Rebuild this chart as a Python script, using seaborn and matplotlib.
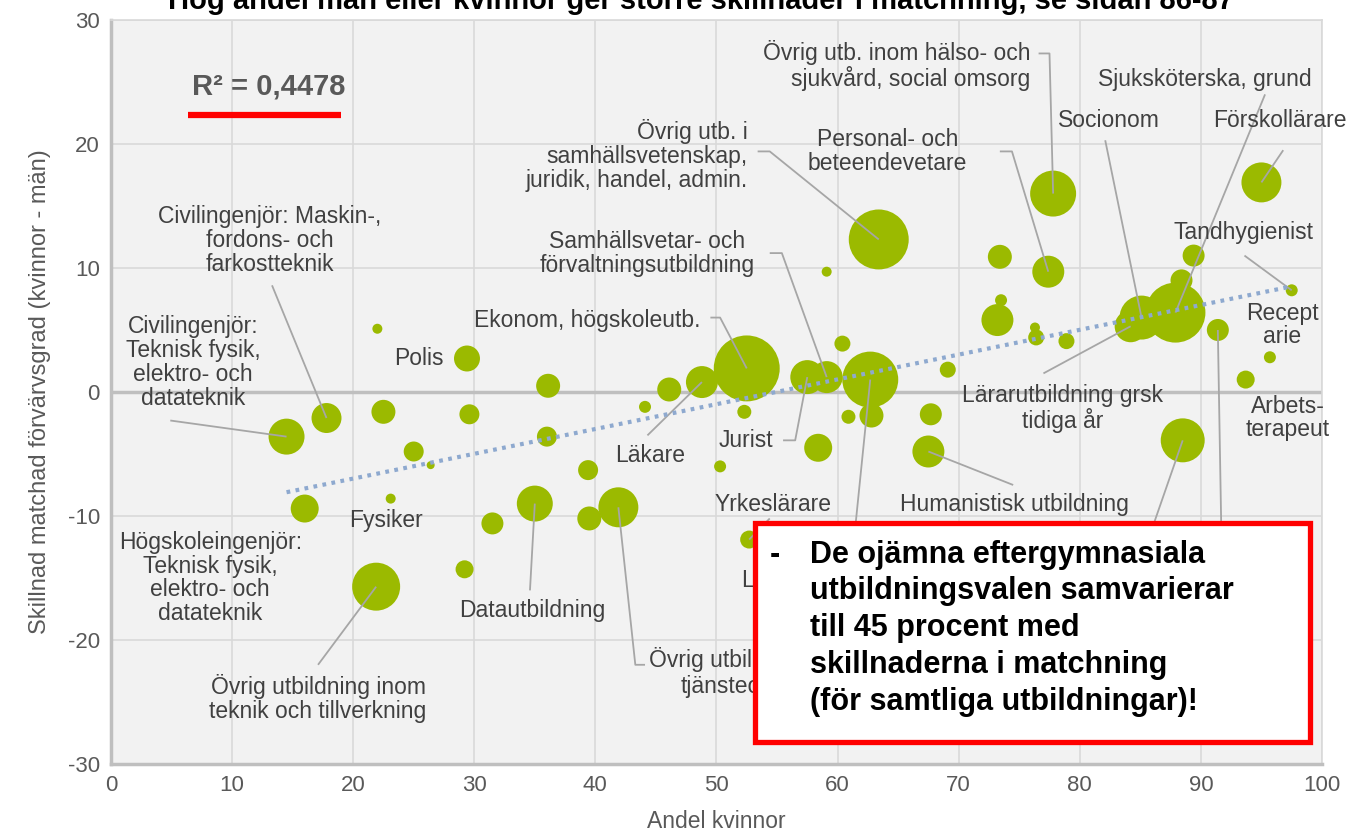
import matplotlib
matplotlib.use("Agg")
import matplotlib.pyplot as plt
import matplotlib.patches as mpatches
import seaborn as sns
import pandas as pd
import numpy as np

# Andel kvinnor (%) per utbildning
andel = [14.5, 17.8, 16.0, 22.5, 22.0, 25.0, 26.4, 23.1, 21.9, 29.4,
         29.6, 29.2, 31.5, 36.1, 36.0, 35.0, 39.4, 39.5, 41.9, 44.1,
         46.1, 48.8, 52.5, 52.3, 50.3, 52.7, 57.5, 59.1, 59.1, 60.4,
         58.4, 60.9, 62.7, 62.8, 63.4, 67.5, 67.7, 69.1, 73.4, 73.2,
         73.5, 76.4, 76.3, 78.9, 77.4, 77.8, 85.1, 87.9, 88.4, 89.4,
         91.4, 95.0, 95.7, 93.7, 88.5, 97.5, 84.2]
# Skillnad matchad förvärvsgrad (kvinnor - män), procentenheter
skillnad = [-3.6, -2.1, -9.4, -1.6, 5.1, -4.8, -5.9, -8.6, -15.7, 2.7,
            -1.8, -14.3, -10.6, 0.5, -3.6, -9.0, -6.3, -10.2, -9.3, -1.2,
            0.2, 0.8, 1.9, -1.6, -6.0, -11.9, 1.2, 1.2, 9.7, 3.9,
            -4.5, -2.0, 1.0, -1.9, 12.3, -4.8, -1.8, 1.8, 10.9, 5.8,
            7.4, 4.4, 5.2, 4.1, 9.7, 16.0, 6.0, 6.4, 9.0, 11.0,
            5.0, 16.9, 2.8, 1.0, -3.9, 8.2, 5.3]
# Relativ storlek (antal examinerade, godtycklig skala)
storlek = [324, 225, 196, 144, 25, 100, 16, 25, 576, 169,
           100, 81, 121, 144, 100, 324, 100, 144, 400, 36,
           144, 256, 1089, 49, 36, 81, 289, 256, 25, 64,
           196, 49, 784, 144, 900, 256, 121, 64, 144, 256,
           36, 64, 25, 64, 256, 529, 484, 900, 121, 121,
           121, 400, 36, 81, 484, 36, 256]

etiketter = {
    45: "Övrig utb. inom hälso- och\nsjukvård, social omsorg",
    47: "Sjuksköterska, grund",
    46: "Socionom",
    51: "Förskollärare",
    34: "Övrig utb. i\nsamhällsvetenskap,\njuridik, handel, admin.",
    44: "Personal- och\nbeteendevetare",
    55: "Tandhygienist",
    52: "Recept\narie",
    53: "Arbets-\nterapeut",
    56: "Lärarutbildning grsk\ntidiga år",
    1: "Civilingenjör: Maskin-,\nfordons- och\nfarkostteknik",
    0: "Civilingenjör:\nTeknisk fysik,\nelektro- och\ndatateknik",
    9: "Polis",
    22: "Ekonom, högskoleutb.",
    27: "Samhällsvetar- och\nförvaltningsutbildning",
    21: "Läkare",
    26: "Jurist",
    25: "Yrkeslärare",
    35: "Humanistisk utbildning",
    7: "Fysiker",
    2: "Högskoleingenjör:\nTeknisk fysik,\nelektro- och\ndatateknik",
    15: "Datautbildning",
    8: "Övrig utbildning inom\nteknik och tillverkning",
    18: "Övrig utbildning inom\ntjänsteområdet",
    32: "Lärarutbildning gymnasieskolan",
    50: "Specialistsjuksköterska, röntgen",
    54: "",
}

# label placement: text position, alignment, leader-line start points
layout = {
    45: ((75.9, 26.3), "right", [(76.6, 27.3), (77.5, 27.3)]),
    47: ((90.3, 25.2), "center", [(95.3, 24.0)]),
    46: ((82.4, 21.9), "center", [(82.1, 20.3)]),
    51: ((91.0, 21.9), "left", [(96.8, 19.5)]),
    34: ((52.6, 19.1), "right", [(53.4, 19.4), (54.4, 19.4)]),
    44: ((64.1, 19.4), "center", [(73.4, 19.4), (74.4, 19.4)]),
    55: ((93.5, 12.9), "center", [(93.6, 11.0)]),
    52: ((96.7, 5.4), "center", []),
    53: ((97.2, -2.1), "center", []),
    56: ((78.6, -1.3), "center", [(77.0, 1.5)]),
    1: ((13.1, 12.2), "center", [(13.3, 8.6)]),
    0: ((6.8, 2.4), "center", [(4.9, -2.3)]),
    9: ((25.4, 2.7), "center", []),
    22: ((39.3, 5.8), "center", [(49.5, 6.0), (50.3, 6.0)]),
    27: ((44.3, 11.2), "center", [(54.4, 11.2), (55.4, 11.2)]),
    21: ((44.5, -5.1), "center", [(44.3, -3.5)]),
    26: ((52.4, -3.9), "center", [(55.5, -3.9), (56.5, -3.9)]),
    25: ((54.7, -9.1), "center", [(54.4, -10.2)]),
    35: ((74.6, -9.1), "center", [(74.5, -7.5)]),
    7: ((22.7, -10.4), "center", []),
    2: ((8.2, -15.0), "center", []),
    15: ((34.8, -17.6), "center", [(34.6, -16.0)]),
    8: ((17.1, -24.7), "center", [(17.1, -22.0)]),
    18: ((53.3, -22.6), "center", [(44.1, -22.0), (43.3, -22.0)]),
    32: ((52.1, -15.2), "left", [(61.4, -11.5)]),
    50: ((99.3, -17.2), "right", [(91.7, -11.9)]),
    54: ((84.1, -14.0), "center", [(85.8, -11.5)]),
}

df = pd.DataFrame({"andel": andel, "skillnad": skillnad, "storlek": storlek})

sns.set_theme(style="whitegrid")
plt.rcParams["font.family"] = ["Liberation Sans", "DejaVu Sans"]
plt.rcParams["axes.unicode_minus"] = False

fig = plt.figure(figsize=(13.48, 8.39), dpi=100)
ax = fig.add_axes([0.0823, 0.0894, 0.8984, 0.8868])
ax.set_facecolor("#F2F2F2")

# area proportional to storlek (px^2 at 100 dpi -> pt^2)
smax = 1100
sns.scatterplot(data=df, x="andel", y="skillnad", size="storlek",
                sizes=(0, smax * 2.07), size_norm=(0, smax),
                color="#9BBA00", edgecolor="none", alpha=1.0,
                legend=False, ax=ax, zorder=3)

# linear trend
k, m = np.polyfit(df["andel"], df["skillnad"], 1)
xs = np.array([df["andel"].min(), df["andel"].max()])
ax.plot(xs, k * xs + m, color="#8EA9CF", lw=3, dashes=(0.9, 1.3),
        zorder=5)

grey = "#A6A6A6"
txt = "#404040"
for i, text in etiketter.items():
    (tx, ty), ha, pts = layout[i]
    if pts:
        path = pts + [(andel[i], skillnad[i])]
        ax.plot([p[0] for p in path], [p[1] for p in path], color=grey,
                lw=1.3, zorder=4, solid_capstyle="butt")
    if text:
        ax.text(tx, ty, text, ha=ha, va="center", fontsize=16.5, color=txt,
                multialignment=ha, linespacing=1.05, zorder=6)

ax.text(13.0, 24.6, "R² = 0,4478", ha="center", va="center", fontsize=21,
        fontweight="bold", color="#595959", zorder=6)
ax.plot([6.4, 19.0], [22.3, 22.3], color="#FF0000", lw=4.5, zorder=6,
        solid_capstyle="butt")

ax.set_xlim(0, 100)
ax.set_ylim(-30, 30)
ax.set_xticks(range(0, 101, 10))
ax.set_yticks(range(-30, 31, 10))
ax.grid(True, color="#D9D9D9", lw=1.2)
ax.axhline(0, color="#BFBFBF", lw=2.5, zorder=2)
for side in ["top", "right"]:
    ax.spines[side].set_color("#D9D9D9")
    ax.spines[side].set_linewidth(1.2)
for side in ["left", "bottom"]:
    ax.spines[side].set_color("#BFBFBF")
    ax.spines[side].set_linewidth(2.5)
ax.tick_params(labelsize=16, colors="#595959", length=0, pad=8)
ax.set_xlabel("Andel kvinnor", fontsize=16.5, color="#595959", labelpad=10)
ax.set_ylabel("Skillnad matchad förvärvsgrad (kvinnor - män)", fontsize=17,
              color="#595959", labelpad=12)

# red call-out box
box = mpatches.Rectangle((53.2, -28.2), 45.8, 17.6, facecolor="white",
                         edgecolor="#FF0000", lw=3.8, zorder=8)
ax.add_patch(box)
ax.text(54.4, -11.9, "-", ha="left", va="top", fontsize=22,
        fontweight="bold", color="black", zorder=9)
ax.text(57.7, -11.9,
        "De ojämna eftergymnasiala\nutbildningsvalen samvarierar\n"
        "till 45 procent med\nskillnaderna i matchning\n"
        "(för samtliga utbildningar)!",
        ha="left", va="top", fontsize=22, fontweight="bold", color="black",
        linespacing=1.3, zorder=9)

fig.text(0.52, 1 - 9 / 839,
         "Hög andel män eller kvinnor ger större skillnader i matchning, se sidan 86-87",
         ha="center", va="baseline", fontsize=21, fontweight="bold",
         color="black")

fig.savefig("out.png", dpi=100)
